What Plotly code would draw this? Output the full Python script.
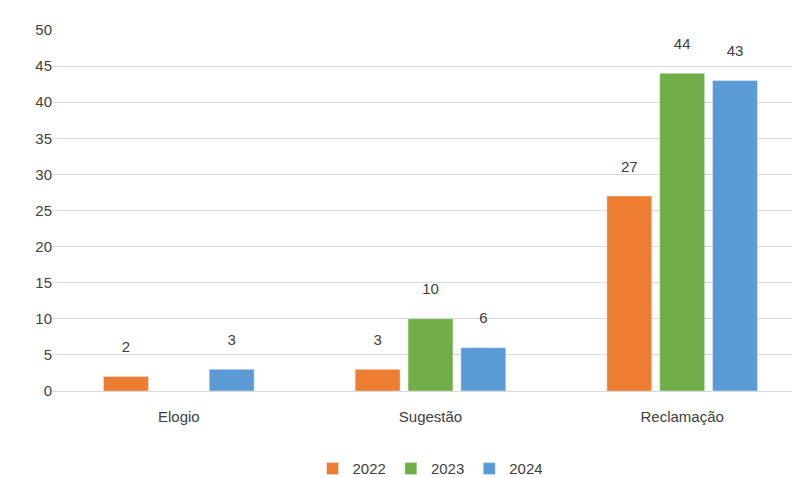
import plotly.graph_objects as go

categories = ["Elogio", "Sugestão", "Reclamação"]
years = ["2022", "2023", "2024"]
v2022 = [2, 3, 27]
v2023 = [None, 10, 44]
v2024 = [3, 6, 43]
colors = ["#ED7D31", "#70AD47", "#5B9BD5"]

fig = go.Figure()
for name, vals, c in zip(years, [v2022, v2023, v2024], colors):
    fig.add_bar(x=categories, y=vals, name=name, marker_color=c,
                text=[("" if v is None else str(v)) for v in vals],
                texttemplate="%{text}<br><span style='font-size:8px'> </span>",
                textposition="outside", cliponaxis=False,
                textfont=dict(size=15, color="#404040"))

fig.update_layout(
    width=800, height=478, barmode="group", bargap=0.37, bargroupgap=0.15,
    plot_bgcolor="white", paper_bgcolor="white",
    margin=dict(l=45, r=0, t=22, b=95),
    font=dict(family="Liberation Sans, Arial", size=15, color="#404040"),
    yaxis=dict(range=[0, 50], dtick=5, gridcolor="#D9D9D9", zeroline=False,
               showline=False, ticks="", tickfont=dict(size=15)),
    xaxis=dict(showline=True, linecolor="#D9D9D9", ticks="", tickfont=dict(size=15),
               ticklabelstandoff=12),
    legend=dict(orientation="h", x=0.5, xanchor="center", y=-0.17, yanchor="top",
                font=dict(size=15), itemwidth=30),
)
fig.write_html("out.html")
